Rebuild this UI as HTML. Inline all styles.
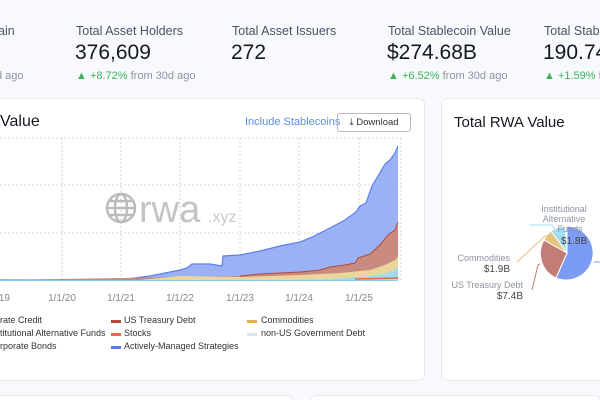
<!DOCTYPE html><html><head><style>
html,body{overflow:hidden}
body{margin:0;width:600px;height:400px;background:#f8f9fc;font-family:"Liberation Sans",sans-serif;position:relative}
.a{position:absolute;white-space:nowrap}
.lb{font-size:12.5px;color:#4b5263}
.v{font-size:21px;color:#151822}
.c{font-size:11px;color:#8d93a0}.c b{color:#3cb35a;font-weight:normal}
.card{position:absolute;background:#fff;border:1px solid #e8eaf0;border-radius:6px}
.lg{font-size:9px;color:#333;position:absolute}
.sw{position:absolute;width:10px;height:3px}
</style></head><body>
<div class="a lb" style="left:-2px;top:24px">ain</div>
<div class="a c" style="left:-4px;top:70px">d ago</div>
<div class="a lb" style="left:76px;top:24px">Total Asset Holders</div>
<div class="a v" style="left:75px;top:41px">376,609</div>
<div class="a c" style="left:76px;top:70px"><b>▲ +8.72%</b> from 30d ago</div>
<div class="a lb" style="left:232px;top:24px">Total Asset Issuers</div>
<div class="a v" style="left:231px;top:41px">272</div>
<div class="a lb" style="left:388px;top:24px">Total Stablecoin Value</div>
<div class="a v" style="left:387px;top:41px">$274.68B</div>
<div class="a c" style="left:388px;top:70px"><b>▲ +6.52%</b> from 30d ago</div>
<div class="a lb" style="left:544px;top:24px">Total Stablecoin</div>
<div class="a v" style="left:543px;top:41px">190.74</div>
<div class="a c" style="left:544px;top:70px"><b>▲ +1.59%</b> from 30d ago</div>

<div class="card" style="left:-10px;top:98px;width:433px;height:281px"></div>
<div class="card" style="left:441px;top:98px;width:170px;height:281px"></div>
<div class="card" style="left:-10px;top:395px;width:302px;height:20px"></div>
<div class="card" style="left:310px;top:395px;width:289px;height:20px"></div>

<div class="a" style="left:0;top:113px;font-size:16px;color:#151822">Value</div>
<div class="a" style="left:245px;top:116px;font-size:11px;color:#5b8def">Include Stablecoins</div>
<div class="a" style="left:337px;top:113px;width:72px;height:17px;border:1px solid #bbb;border-radius:3px;font-size:9.5px;color:#333;line-height:17px;text-align:center">⤓ Download</div>
<div class="a" style="left:454px;top:114px;font-size:15px;color:#151822">Total RWA Value</div>

<svg class="a" style="left:0;top:0" width="600" height="400">
<g stroke="#ccc" stroke-dasharray="2,2" stroke-width="0.8">
<line x1="0" y1="138" x2="401" y2="138"/><line x1="0" y1="185" x2="401" y2="185"/><line x1="0" y1="233" x2="401" y2="233"/>
<line x1="62" y1="138" x2="62" y2="281"/><line x1="121" y1="138" x2="121" y2="281"/><line x1="180" y1="138" x2="180" y2="281"/><line x1="240" y1="138" x2="240" y2="281"/><line x1="299" y1="138" x2="299" y2="281"/><line x1="359" y1="138" x2="359" y2="281"/><line x1="401" y1="138" x2="401" y2="281"/>
</g>
<g fill="none" stroke="#bbb" stroke-width="2.5"><circle cx="121" cy="208" r="14"/><ellipse cx="121" cy="208" rx="6" ry="14"/><line x1="107" y1="208" x2="135" y2="208"/><line x1="110" y1="201" x2="132" y2="201"/><line x1="110" y1="215" x2="132" y2="215"/></g>
<text x="139" y="222" font-size="38" fill="#c4c4c4" font-family="Liberation Sans">rwa</text>
<text x="208" y="222" font-size="16" fill="#c8c8c8" font-family="Liberation Sans">.xyz</text>
<polygon fill="#8aa3f5" fill-opacity="0.85" points="0,280 120,280 135,278 150,276 170,272 180,270 187,268 192,264 210,264 222,266 223,256 240,255 260,251 280,246 300,242 312,237 330,228 345,220 356,212 360,206 366,203 372,186 378,176 385,164 390,160 395,153 398,146 398,280"/>
<polyline fill="none" stroke="#5b7ff0" stroke-width="1.2" points="0,280 120,280 135,278 150,276 170,272 180,270 187,268 192,264 210,264 222,266 223,256 240,255 260,251 280,246 300,242 312,237 330,228 345,220 356,212 360,206 366,203 372,186 378,176 385,164 390,160 395,153 398,146"/>
<polygon fill="#c98a80" points="0,280 240,276 260,274 300,272 320,270 330,267 345,265 355,263 358,258 370,254 380,245 388,235 395,230 398,222 398,280"/>
<polyline fill="none" stroke="#b34a3c" stroke-width="1" points="240,276 260,274 300,272 320,270 330,267 345,265 355,263 358,258 370,254 380,245 388,235 395,230 398,222"/>
<polygon fill="#ecd59a" points="140,280 180,276 240,277 300,275 340,273 370,270 385,265 395,260 398,257 398,280"/>
<polygon fill="#9fdcef" points="300,280 330,279 360,277 380,275 395,270 398,267 398,280"/>
<line x1="355" y1="279" x2="398" y2="278" stroke="#e86a4a" stroke-width="1.5"/>
<line x1="0" y1="280.5" x2="398" y2="280.5" stroke="#7fd0ea" stroke-width="1"/>
<g font-size="10" fill="#888" text-anchor="middle" font-family="Liberation Sans">
<text x="3" y="301">/19</text><text x="62" y="301">1/1/20</text><text x="121" y="301">1/1/21</text><text x="180" y="301">1/1/22</text><text x="240" y="301">1/1/23</text><text x="299" y="301">1/1/24</text><text x="359" y="301">1/1/25</text></g>
<path d="M567,253 L567,226 A27,27 0 1 1 556,278 Z" fill="#7b9cf5" stroke="#fff" stroke-width="1"/>
<path d="M567,253 L556,278 A27,27 0 0 1 544,240 Z" fill="#c17d76" stroke="#fff" stroke-width="1"/>
<path d="M567,253 L544,240 A27,27 0 0 1 551,231 Z" fill="#e5c57d" stroke="#fff" stroke-width="1"/>
<path d="M567,253 L551,231 A27,27 0 0 1 565,226 Z" fill="#a5def0" stroke="#fff" stroke-width="1"/>
<polyline fill="none" stroke="#e5c57d" points="517,262 545,236 548,236"/>
<polyline fill="none" stroke="#c17d76" points="532,290 538,265 540,264"/>
<polyline fill="none" stroke="#a5def0" points="529,225 552,225 555,229"/>
<line x1="594" y1="262" x2="600" y2="262" stroke="#7b9cf5"/>
<g font-family="Liberation Sans" font-size="9" fill="#8d93a0">
<text x="510" y="261" text-anchor="end">Commodities</text><text x="523" y="288" text-anchor="end">US Treasury Debt</text>
<text x="564" y="212" text-anchor="middle">Institutional</text><text x="564" y="222" text-anchor="middle">Alternative</text><text x="570" y="232" text-anchor="middle">Funds</text></g>
<g font-family="Liberation Sans" font-size="10" fill="#444">
<text x="510" y="272" text-anchor="end">$1.9B</text><text x="523" y="299" text-anchor="end">$7.4B</text><text x="561" y="244">$1.8B</text></g>
</svg>

<div class="lg" style="left:0;top:315px">rate Credit</div>
<div class="lg" style="left:0;top:328px">titutional Alternative Funds</div>
<div class="lg" style="left:0;top:341px">rporate Bonds</div>
<div class="sw" style="left:111px;top:320px;background:#b34a3c"></div><div class="lg" style="left:124px;top:315px">US Treasury Debt</div>
<div class="sw" style="left:111px;top:333px;background:#e86a4a"></div><div class="lg" style="left:124px;top:328px">Stocks</div>
<div class="sw" style="left:111px;top:346px;background:#5b7fd0"></div><div class="lg" style="left:124px;top:341px">Actively-Managed Strategies</div>
<div class="sw" style="left:247px;top:320px;background:#e0b04a"></div><div class="lg" style="left:261px;top:315px">Commodities</div>
<div class="sw" style="left:247px;top:333px;background:#dde3ee"></div><div class="lg" style="left:261px;top:328px">non-US Government Debt</div>
</body></html>
